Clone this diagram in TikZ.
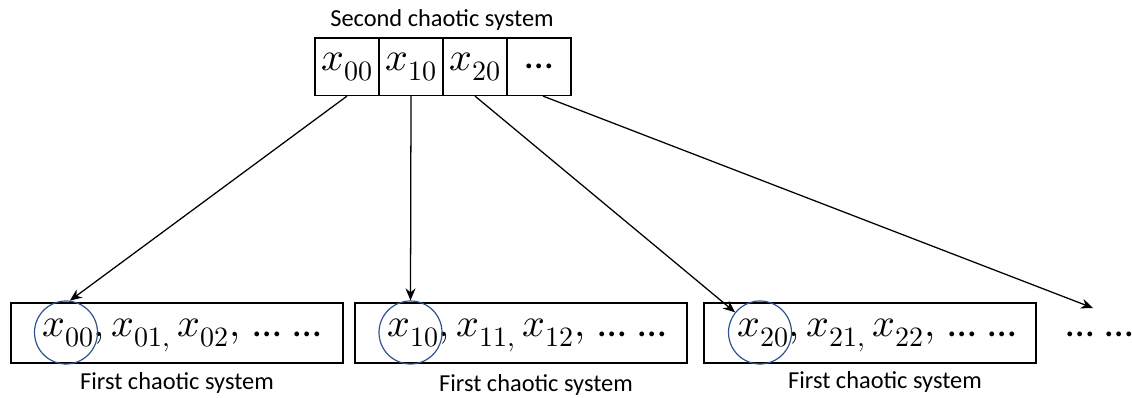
\documentclass[tikz,border=0pt]{standalone}
\usepackage{fontspec}
\usepackage{unicode-math}
\setmathfont{Latin Modern Math}
\newfontfamily\labelfont{Carlito}
\newcommand{\mydots}{\mbox{\labelfont …}}
\usetikzlibrary{arrows.meta}
\definecolor{circblue}{RGB}{47,82,143}
\begin{document}
\begin{tikzpicture}[x=0.75pt,y=-0.75pt,
  cell/.style={draw,line width=1.1pt,minimum width=48pt,minimum height=43pt,inner sep=0pt,font=\fontsize{30}{33}\selectfont},
  bbox/.style={draw,line width=1.1pt,minimum width=249pt,minimum height=45pt,inner sep=0pt},
  seq/.style={anchor=base west,inner sep=0pt,font=\fontsize{30}{33}\selectfont},
  ring/.style={draw=circblue,line width=0.9pt,circle,minimum size=47.25pt,inner sep=0pt},
  lbl/.style={anchor=base,inner sep=0pt,font=\labelfont\fontsize{18.3}{20}\selectfont},
  arr/.style={line width=0.95pt,-{Stealth[length=9pt,width=7.5pt]}}]
\useasboundingbox (0,0) rectangle (1132,398);
% top
\node[lbl] (title) at (442,27) {Second chaotic system};
\node[cell] (c0) at (347,66.7) {$x_{00}$};
\node[cell] (c1) at (411,66.7) {$x_{10}$};
\node[cell] (c2) at (475,66.7) {$x_{20}$};
\node[cell] (c3) at (539,66.7) {$\mydots$};
% bottom boxes
\node[bbox] (b1) at (177,333) {};
\node[bbox] (b2) at (521,333) {};
\node[bbox] (b3) at (870,333) {};
\node[seq] (t1) at (42,337) {$x_{00}, x_{01,}\, x_{02},\, \mydots\ \mydots$};
\node[seq] (t2) at (387,337) {$x_{10}, x_{11,}\, x_{12},\, \mydots\ \mydots$};
\node[seq] (t3) at (737,337) {$x_{20}, x_{21,}\, x_{22},\, \mydots\ \mydots$};
\node[seq] (t4) at (1066,337) {$\mydots\ \mydots$};
\node[ring] (k1) at (66,332.5) {};
\node[ring] (k2) at (410.5,332.5) {};
\node[ring] (k3) at (760,332.5) {};
\node[lbl] (l1) at (177,390) {First chaotic system};
\node[lbl] (l2) at (536,392) {First chaotic system};
\node[lbl] (l3) at (885,389) {First chaotic system};
\coordinate (e4) at (1093,308);
% arrows
\draw[arr] (c0.south) -- (k1.83);
\draw[arr] (c1.south) -- (k2.north);
\draw[arr] (c2.south) -- (k3.141);
\draw[arr] ([xshift=3pt]c3.south) -- (e4);
\end{tikzpicture}
\end{document}
